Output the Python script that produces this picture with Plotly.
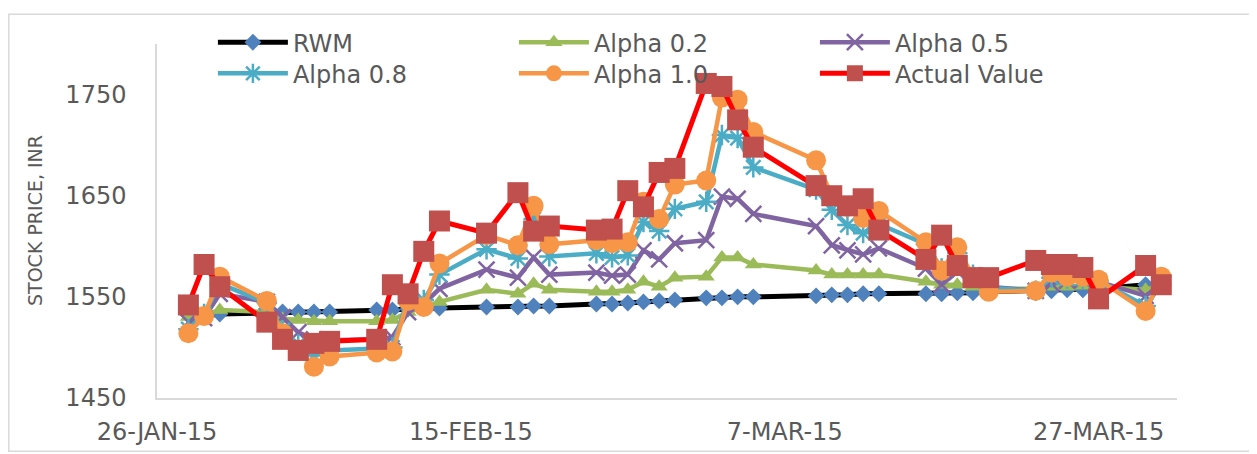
import plotly.graph_objects as go

# trading days shown on the chart
dates = ['2015-01-28', '2015-01-29', '2015-01-30',
         '2015-02-02', '2015-02-03', '2015-02-04', '2015-02-05', '2015-02-06',
         '2015-02-09', '2015-02-10', '2015-02-11', '2015-02-12', '2015-02-13',
         '2015-02-16', '2015-02-18', '2015-02-19', '2015-02-20',
         '2015-02-23', '2015-02-24', '2015-02-25', '2015-02-26', '2015-02-27', '2015-02-28',
         '2015-03-02', '2015-03-03', '2015-03-04', '2015-03-05',
         '2015-03-09', '2015-03-10', '2015-03-11', '2015-03-12', '2015-03-13',
         '2015-03-16', '2015-03-17', '2015-03-18', '2015-03-19', '2015-03-20',
         '2015-03-23', '2015-03-24', '2015-03-25', '2015-03-26', '2015-03-27',
         '2015-03-30', '2015-03-31']

rwm = [1532, 1531, 1533, 1534, 1535, 1535, 1535, 1535, 1537, 1537, 1538, 1539, 1539,
       1540, 1540, 1541, 1541, 1543, 1543, 1544, 1545, 1546, 1547, 1549, 1549, 1550,
       1550, 1551, 1552, 1552, 1553, 1553, 1553, 1553, 1554, 1554, 1555, 1556, 1556,
       1557, 1557, 1558, 1562, 1560]

alpha_02 = [1530, 1532, 1537, 1535, 1528, 1527, 1526, 1526, 1526, 1527, 1535, 1540, 1545,
            1557, 1553, 1563, 1557, 1555, 1555, 1557, 1565, 1560, 1569, 1570, 1589, 1589,
            1582, 1576, 1572, 1572, 1572, 1572, 1565, 1562, 1562, 1560, 1558, 1558, 1560,
            1560, 1561, 1560, 1557, 1561]

alpha_05 = [1525, 1529, 1553, 1545, 1530, 1515, 1508, 1507, 1508, 1510, 1535, 1543, 1558,
            1577, 1569, 1589, 1572, 1574, 1571, 1572, 1596, 1587, 1603, 1606, 1649, 1647,
            1632, 1620, 1601, 1596, 1592, 1598, 1578, 1562, 1575, 1568, 1560, 1556, 1563,
            1566, 1567, 1565, 1551, 1562]

alpha_08 = [1518, 1533, 1563, 1544, 1517, 1503, 1492, 1497, 1499, 1500, 1548, 1547, 1572,
            1597, 1588, 1627, 1590, 1593, 1589, 1591, 1624, 1615, 1637, 1644, 1710, 1707,
            1678, 1656, 1636, 1621, 1613, 1622, 1602, 1578, 1593, 1572, 1559, 1556, 1569,
            1568, 1568, 1566, 1541, 1562]

alpha_10 = [1514, 1531, 1570, 1546, 1514, 1498, 1481, 1491, 1495, 1496, 1546, 1540, 1583,
            1611, 1601, 1640, 1602, 1606, 1603, 1604, 1644, 1627, 1661, 1665, 1747, 1745,
            1713, 1685, 1650, 1639, 1628, 1635, 1604, 1576, 1599, 1570, 1555, 1556, 1574,
            1570, 1570, 1567, 1536, 1570]

actual = [1542, 1582, 1560, 1525, 1508, 1497, 1504, 1506, 1508, 1562, 1553, 1595, 1625,
          1613, 1653, 1615, 1620, 1616, 1617, 1655, 1639, 1673, 1677, 1761, 1758, 1725,
          1698, 1660, 1650, 1640, 1647, 1616, 1587, 1611, 1581, 1569, 1569, 1586, 1582,
          1582, 1579, 1548, 1581, 1562]

tick_dates = ['2015-01-26', '2015-02-15', '2015-03-07', '2015-03-27']
tick_text = ['26-JAN-15', '15-FEB-15', '7-MAR-15', '27-MAR-15']
y_ticks = [1450, 1550, 1650, 1750]

FONT = 'DejaVu Sans'
GREY = '#595959'

fig = go.Figure()

# RWM: black line, blue diamonds
fig.add_trace(go.Scatter(x=dates, y=rwm, name='RWM', mode='lines+markers',
                         line=dict(color='#000000', width=5),
                         marker=dict(symbol='diamond', size=13, color='#4F81BD'),
                         legend='legend'))
fig.add_trace(go.Scatter(x=dates, y=alpha_02, name='Alpha 0.2', mode='lines+markers',
                         line=dict(color='#9BBB59', width=4.5),
                         marker=dict(symbol='triangle-up', size=15, color='#9BBB59'),
                         legend='legend'))
fig.add_trace(go.Scatter(x=dates, y=alpha_05, name='Alpha 0.5', mode='lines+markers',
                         line=dict(color='#8064A2', width=4.5),
                         marker=dict(symbol='x-thin-open', size=16, color='#8064A2',
                                     line=dict(color='#8064A2', width=2.5)),
                         legend='legend'))
fig.add_trace(go.Scatter(x=dates, y=alpha_08, name='Alpha 0.8', mode='lines+markers',
                         line=dict(color='#4BACC6', width=4.5),
                         marker=dict(symbol='asterisk-open', size=17, color='#4BACC6',
                                     line=dict(color='#4BACC6', width=2.5)),
                         legend='legend2'))
fig.add_trace(go.Scatter(x=dates, y=alpha_10, name='Alpha 1.0', mode='lines+markers',
                         line=dict(color='#F79646', width=4.5),
                         marker=dict(symbol='circle', size=20, color='#F79646'),
                         legend='legend2'))
fig.add_trace(go.Scatter(x=dates, y=actual, name='Actual Value', mode='lines+markers',
                         line=dict(color='#FF0000', width=5),
                         marker=dict(symbol='square', size=21, color='#C0504D'),
                         legend='legend2'))

legend_style = dict(orientation='h', xanchor='left', yanchor='middle',
                    entrywidth=216, entrywidthmode='pixels', itemwidth=70,
                    font=dict(family=FONT, size=24, color=GREY),
                    bgcolor='rgba(0,0,0,0)', borderwidth=0)

# outer chart border (page has an 8px body margin, so the figure sits 8px in)
fig.add_shape(type='rect', xref='paper', yref='paper',
              x0=-0.1453, x1=1.0745, y0=-0.1504, y1=1.0843,
              line=dict(color='#D9D9D9', width=1.5), layer='below')

fig.add_annotation(text='STOCK PRICE, INR', xref='paper', yref='paper',
                   x=-0.1196, y=0.5, textangle=-90, showarrow=False,
                   xanchor='center', yanchor='middle',
                   font=dict(family=FONT, size=19, color=GREY))

fig.update_layout(
    width=1257, height=454,
    margin=dict(l=149, r=88, t=31, b=64),
    plot_bgcolor='white', paper_bgcolor='white',
    font=dict(family=FONT, color=GREY),
    legend=dict(legend_style, x=0.0548, y=1.004),
    legend2=dict(legend_style, x=0.0548, y=0.916),
    xaxis=dict(type='date', range=['2015-01-26', '2015-04-01'],
               tickvals=tick_dates, ticktext=tick_text, automargin=False,
               showline=True, linecolor='#D9D9D9', linewidth=1.5,
               showgrid=False, zeroline=False,
               ticks='outside', ticklen=11, tickcolor='rgba(0,0,0,0)',
               tickfont=dict(family=FONT, size=24, color=GREY)),
    yaxis=dict(range=[1450, 1800], tickvals=y_ticks, automargin=False,
               showline=True, linecolor='#D9D9D9', linewidth=1.5,
               showgrid=False, zeroline=False,
               ticks='outside', ticklen=24, tickcolor='rgba(0,0,0,0)',
               tickfont=dict(family=FONT, size=24, color=GREY)),
)

fig.write_html("out.html")
